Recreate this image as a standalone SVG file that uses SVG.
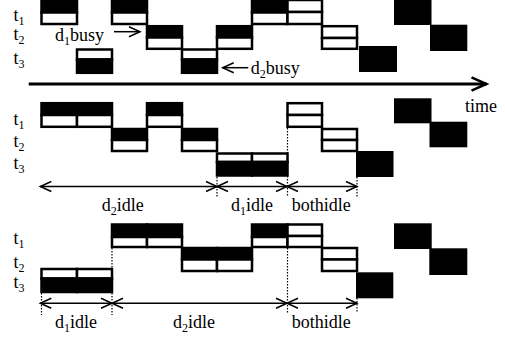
<svg xmlns="http://www.w3.org/2000/svg" width="505" height="343" viewBox="0 0 505 343">
<style>
.b{fill:#000;stroke:#000;stroke-width:2.5}
.w{fill:#fff;stroke:#000;stroke-width:2.5}
.k{fill:#000;stroke:none}
text{font-family:"Liberation Serif","Times New Roman",serif;font-size:18px;fill:#000}
.s{font-size:12px}
.dim{stroke:#000;stroke-width:1.5;fill:none;marker-start:url(#ah);marker-end:url(#ah)}
.dot{stroke:#000;stroke-width:1.2;stroke-dasharray:1.5 1.5;fill:none}
</style>
<defs>
<marker id="ah" markerUnits="userSpaceOnUse" orient="auto-start-reverse" overflow="visible" markerWidth="1" markerHeight="1"><path d="M-11,-5 L0,0 L-11,5" fill="none" stroke="#000" stroke-width="1.5"/></marker>
<marker id="ta" markerUnits="userSpaceOnUse" orient="auto" overflow="visible" markerWidth="1" markerHeight="1"><path d="M-15,-6.7 L0,0 L-15,6.7" fill="none" stroke="#000" stroke-width="2.5"/></marker>
</defs>
<rect width="505" height="343" fill="#fff"/>

<!-- Section 1 -->
<g id="s1-labels">
<text x="13.5" y="21">t<tspan class="s" dy="4">1</tspan></text>
<text x="13.5" y="39.5">t<tspan class="s" dy="4">2</tspan></text>
<text x="13.5" y="63.5">t<tspan class="s" dy="4">3</tspan></text>
</g>
<g id="s1-c0"><rect class="b" x="41.5" y="0" width="35.5" height="12.5"/><rect class="w" x="41.5" y="12.5" width="35.5" height="11.5"/></g>
<g id="s1-c1"><rect class="w" x="77" y="49.5" width="35" height="10"/><rect class="b" x="77" y="59.5" width="35" height="13.3"/></g>
<g id="s1-c2"><rect class="b" x="112" y="0" width="35" height="12.5"/><rect class="w" x="112" y="12.5" width="35" height="11.5"/></g>
<g id="s1-c3"><rect class="b" x="147" y="26.2" width="35" height="11.3"/><rect class="w" x="147" y="37.5" width="35" height="11.3"/></g>
<g id="s1-c4"><rect class="w" x="182" y="49.5" width="35" height="10"/><rect class="b" x="182" y="59.5" width="35" height="13.3"/></g>
<g id="s1-c5"><rect class="b" x="217" y="26.2" width="35" height="11.3"/><rect class="w" x="217" y="37.5" width="35" height="11.3"/></g>
<g id="s1-c6"><rect class="b" x="252" y="0" width="35.5" height="12.5"/><rect class="w" x="252" y="12.5" width="35.5" height="11.5"/></g>
<g id="s1-c7"><rect class="w" x="287.5" y="0" width="34.5" height="12"/><rect class="w" x="287.5" y="12" width="34.5" height="12"/></g>
<g id="s1-c8"><rect class="w" x="322" y="26.2" width="35" height="11.8"/><rect class="w" x="322" y="38" width="35" height="10.8"/></g>
<g id="s1-c9"><rect class="k" x="359" y="46" width="38" height="26"/></g>
<g id="s1-c10"><rect class="k" x="394" y="0" width="37.5" height="25"/></g>
<g id="s1-c11"><rect class="k" x="430" y="24.7" width="37.3" height="26.3"/></g>
<g id="s1-notes">
<text x="55" y="41">d<tspan class="s" dy="4">1</tspan><tspan dy="-4">busy</tspan></text>
<text x="250.7" y="73.5">d<tspan class="s" dy="4">2</tspan><tspan dy="-4">busy</tspan></text>
</g>

<!-- Section 2 -->
<g id="s2-labels">
<text x="13.5" y="125">t<tspan class="s" dy="4">1</tspan></text>
<text x="13.5" y="146.5">t<tspan class="s" dy="4">2</tspan></text>
<text x="13.5" y="169">t<tspan class="s" dy="4">3</tspan></text>
</g>
<g id="s2-c0"><rect class="b" x="41.5" y="103.2" width="35.5" height="11.8"/><rect class="w" x="41.5" y="115" width="35.5" height="11.8"/></g>
<g id="s2-c1"><rect class="b" x="77" y="103.2" width="35" height="11.8"/><rect class="w" x="77" y="115" width="35" height="11.8"/></g>
<g id="s2-c2"><rect class="b" x="112" y="129" width="35" height="11"/><rect class="w" x="112" y="140" width="35" height="11"/></g>
<g id="s2-c3"><rect class="b" x="147" y="103.2" width="35" height="11.8"/><rect class="w" x="147" y="115" width="35" height="11.8"/></g>
<g id="s2-c4"><rect class="b" x="182" y="129" width="35" height="11"/><rect class="w" x="182" y="140" width="35" height="11"/></g>
<g id="s2-c5"><rect class="w" x="217" y="153.5" width="35" height="8.5"/><rect class="b" x="217" y="162" width="35" height="13.5"/></g>
<g id="s2-c6"><rect class="w" x="252" y="153.5" width="35.5" height="8.5"/><rect class="b" x="252" y="162" width="35.5" height="13.5"/></g>
<g id="s2-c7"><rect class="w" x="287.5" y="103.2" width="34.5" height="11.8"/><rect class="w" x="287.5" y="115" width="34.5" height="11.8"/></g>
<g id="s2-c8"><rect class="w" x="322" y="129" width="35" height="11"/><rect class="w" x="322" y="140" width="35" height="11"/></g>
<g id="s2-c9"><rect class="k" x="356" y="151" width="37.5" height="26"/></g>
<g id="s2-c10"><rect class="k" x="394" y="98.3" width="37.5" height="25"/></g>
<g id="s2-c11"><rect class="k" x="429.5" y="121.7" width="37.8" height="25.6"/></g>
<g id="s2-notes">
<text x="465" y="111.5">time</text>
<text x="101.7" y="211">d<tspan class="s" dy="4">2</tspan><tspan dy="-4">idle</tspan></text>
<text x="231" y="210.5">d<tspan class="s" dy="4">1</tspan><tspan dy="-4">idle</tspan></text>
<text x="291.7" y="210.5">bothidle</text>
</g>

<!-- Section 3 -->
<g id="s3-labels">
<text x="13.5" y="243.5">t<tspan class="s" dy="4">1</tspan></text>
<text x="13.5" y="267.5">t<tspan class="s" dy="4">2</tspan></text>
<text x="13.5" y="288">t<tspan class="s" dy="4">3</tspan></text>
</g>
<g id="s3-c0"><rect class="w" x="41.5" y="269" width="35.5" height="9.5"/><rect class="b" x="41.5" y="278.5" width="35.5" height="13.5"/></g>
<g id="s3-c1"><rect class="w" x="77" y="269" width="35" height="9.5"/><rect class="b" x="77" y="278.5" width="35" height="13.5"/></g>
<g id="s3-c2"><rect class="b" x="112" y="224.5" width="35" height="12.5"/><rect class="w" x="112" y="237" width="35" height="10"/></g>
<g id="s3-c3"><rect class="b" x="147" y="224.5" width="35" height="12.5"/><rect class="w" x="147" y="237" width="35" height="10"/></g>
<g id="s3-c4"><rect class="b" x="182" y="248" width="35" height="11.5"/><rect class="w" x="182" y="259.5" width="35" height="11.5"/></g>
<g id="s3-c5"><rect class="b" x="217" y="248" width="35" height="11.5"/><rect class="w" x="217" y="259.5" width="35" height="11.5"/></g>
<g id="s3-c6"><rect class="b" x="252" y="224.5" width="35.5" height="12.5"/><rect class="w" x="252" y="237" width="35.5" height="10"/></g>
<g id="s3-c7"><rect class="w" x="287.5" y="224.5" width="34.5" height="11.5"/><rect class="w" x="287.5" y="236" width="34.5" height="11"/></g>
<g id="s3-c8"><rect class="w" x="322" y="248" width="35" height="11.5"/><rect class="w" x="322" y="259.5" width="35" height="11.5"/></g>
<g id="s3-c9"><rect class="k" x="356" y="272.3" width="37.3" height="26"/></g>
<g id="s3-c10"><rect class="k" x="394" y="223.3" width="37.7" height="25.7"/></g>
<g id="s3-c11"><rect class="k" x="429.3" y="248.3" width="38" height="26.7"/></g>
<g id="s3-notes">
<text x="55" y="328">d<tspan class="s" dy="4">1</tspan><tspan dy="-4">idle</tspan></text>
<text x="173" y="328">d<tspan class="s" dy="4">2</tspan><tspan dy="-4">idle</tspan></text>
<text x="291.7" y="328">bothidle</text>
</g>

<g id="connectors">
<line x1="28.7" y1="84" x2="486.5" y2="84" stroke="#000" stroke-width="3" marker-end="url(#ta)"/>
<line x1="114" y1="31.7" x2="140" y2="31.7" stroke="#000" stroke-width="1.5" marker-end="url(#ah)"/>
<line x1="248.3" y1="67.7" x2="222.7" y2="67.7" stroke="#000" stroke-width="1.5" marker-end="url(#ah)"/>
<line class="dim" x1="40.3" y1="186.5" x2="217" y2="186.5"/>
<line class="dim" x1="217" y1="186.5" x2="287" y2="186.5"/>
<line class="dim" x1="287" y1="186.5" x2="357" y2="186.5"/>
<line class="dot" x1="217" y1="177" x2="217" y2="197"/>
<line class="dot" x1="287.5" y1="128" x2="287.5" y2="197"/>
<line class="dot" x1="357" y1="177" x2="357" y2="198"/>
<line class="dim" x1="40.3" y1="303.3" x2="112" y2="303.3"/>
<line class="dim" x1="112" y1="303.3" x2="287" y2="303.3"/>
<line class="dim" x1="287" y1="303.3" x2="357" y2="303.3"/>
<line class="dot" x1="41.5" y1="293" x2="41.5" y2="315"/>
<line class="dot" x1="112" y1="248" x2="112" y2="315"/>
<line class="dot" x1="287.5" y1="248" x2="287.5" y2="313"/>
<line class="dot" x1="357" y1="298" x2="357" y2="313"/>
</g>
</svg>
